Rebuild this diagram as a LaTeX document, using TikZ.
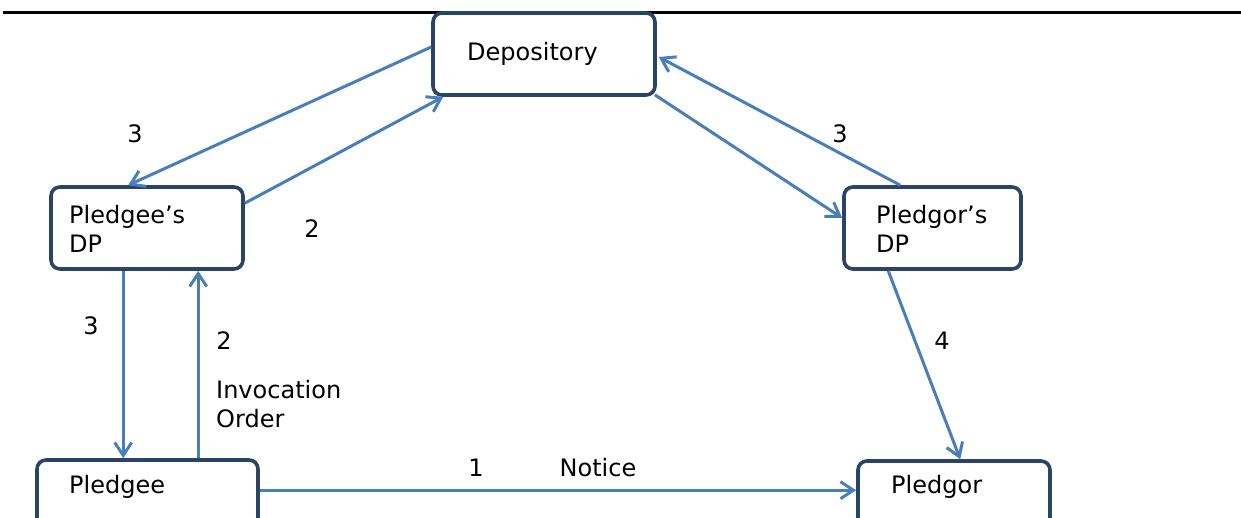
\documentclass[tikz,border=0pt]{standalone}
\usepackage{fontspec}
\setmainfont{DejaVu Sans}
\usetikzlibrary{arrows.meta,calc}
\definecolor{boxline}{HTML}{2A4466}
\definecolor{arrowblue}{HTML}{4A7EBB}
\tikzset{
  box/.style={draw=boxline,line width=3.6pt,rounded corners=9pt,fill=white,inner sep=0pt},
  lbl/.style={inner sep=0pt,font=\fontsize{24}{28.5}\selectfont,text=black},
  conn/.style={draw=arrowblue,line width=3pt,-{Straight Barb[length=13pt,width=17pt,line width=3pt]}}
}
\begin{document}
\begin{tikzpicture}[x=1pt,y=-1pt]
\useasboundingbox (0,0) rectangle (1241,518);
\clip (0,0) rectangle (1241,518);
\draw[line width=3pt,black] (3,13) -- (1241,13);
% boxes
\node[box,minimum width=222pt,minimum height=82pt] (dep) at (544,54) {};
\node[box,minimum width=192pt,minimum height=82pt] (pgdp) at (147,228) {};
\node[box,minimum width=177pt,minimum height=82pt] (pldp) at (932.5,228) {};
\node[box,minimum width=221pt,minimum height=82pt] (pge) at (147.5,501) {};
\node[box,minimum width=192pt,minimum height=82pt] (plr) at (954,502) {};
% box texts
\node[lbl,anchor=west] (tdep) at (467,54) {Depository};
\node[lbl,anchor=west,align=left] (tpgdp) at (69,229) {Pledgee’s\\DP};
\node[lbl,anchor=west,align=left] (tpldp) at (876,229) {Pledgor’s\\DP};
\node[lbl,anchor=west] (tpge) at (69,487) {Pledgee};
\node[lbl,anchor=west] (tplr) at (891,487) {Pledgor};
% connectors
\draw[conn] ($(dep.west)+(0,-7)$) -- ($(pgdp.north west)+(79,0)$);
\draw[conn] ($(pgdp.north east)+(0,18)$) -- ($(dep.south west)+(12,0)$);
\draw[conn] ($(dep.south east)+(-2,-2)$) -- ($(pldp.west)+(0,-10)$);
\draw[conn] ($(pldp.north west)+(58,0)$) -- ($(dep.east)+(2,3)$);
\draw[conn] ($(pgdp.south west)+(74,0)$) -- ($(pge.north west)+(88,0)$);
\draw[conn] ($(pge.north west)+(163,0)$) -- ($(pgdp.south west)+(149,0)$);
\draw[conn] ($(pldp.south west)+(46,0)$) -- ($(plr.north west)+(104,0)$);
\draw[conn] ($(pge.north east)+(0,32)$) -- ($(plr.north west)+(0,31)$);
% labels
\node[lbl] (l3a) at (135,134) {3};
\node[lbl] (l2a) at (312,229) {2};
\node[lbl] (l3b) at (840,134) {3};
\node[lbl] (l3c) at (91,326) {3};
\node[lbl] (l2b) at (224,341) {2};
\node[lbl] (l4) at (942,341) {4};
\node[lbl] (l1) at (476,468) {1};
\node[lbl] (lnot) at (598,468) {Notice};
\node[lbl,anchor=west,align=left] (linv) at (216,404) {Invocation\\Order};
\end{tikzpicture}
\end{document}
